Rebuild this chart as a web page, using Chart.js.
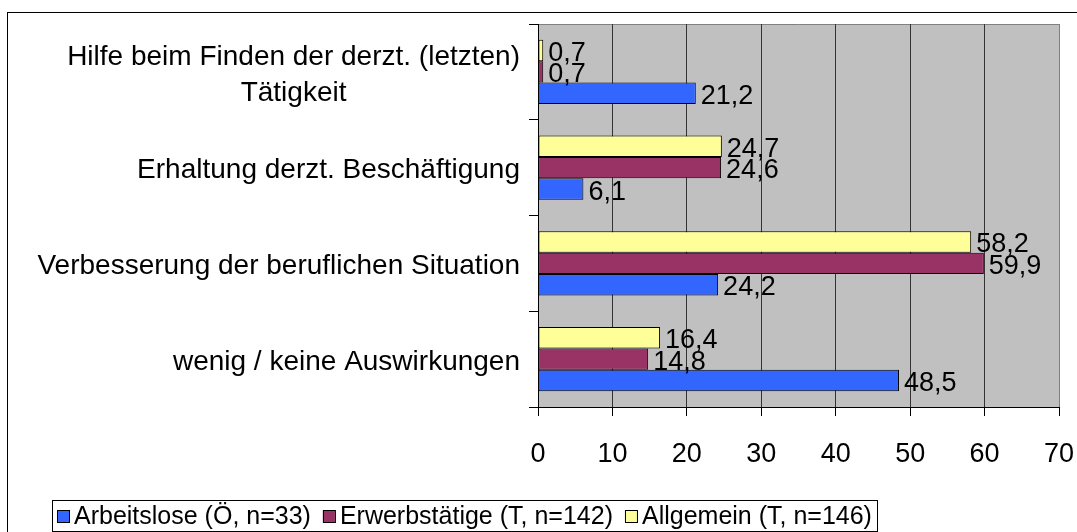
<!DOCTYPE html>
<html>
<head>
<meta charset="utf-8">
<script src="https://cdn.jsdelivr.net/npm/chart.js@4.4.0/dist/chart.umd.min.js"></script>
<style>
  html, body { margin: 0; padding: 0; background: #fff; }
</style>
</head>
<body>
<canvas id="chart" width="1077" height="532"></canvas>
<script>
// Kategorien von oben nach unten
var categories = [
    ['Hilfe beim Finden der derzt. (letzten)', 'Tätigkeit'],
    'Erhaltung derzt. Beschäftigung',
    'Verbesserung der beruflichen Situation',
    'wenig / keine Auswirkungen'
];
var seriesNames = ['Arbeitslose (Ö, n=33)', 'Erwerbstätige (T, n=142)', 'Allgemein (T, n=146)'];
var arbeitslose = [21.2, 6.1, 24.2, 48.5];
var erwerbstaetige = [0.7, 24.6, 59.9, 14.8];
var allgemein = [0.7, 24.7, 58.2, 16.4];
var xTicks = [0, 10, 20, 30, 40, 50, 60, 70];

var FONT = "'Liberation Sans', Arial, sans-serif";
var FS_CAT = 28;   // Kategorien
var FS = 27;       // Achse + Werte
var FS_LEG = 25;   // Legende

// Hintergrund, Rahmen und grauer Plotbereich
var bgPlugin = {
    id: 'bg',
    beforeDraw: function (chart) {
        var ctx = chart.ctx, a = chart.chartArea;
        ctx.save();
        ctx.fillStyle = '#fff';
        ctx.fillRect(0, 0, chart.width, chart.height);
        ctx.strokeStyle = '#000';
        ctx.lineWidth = 1;
        ctx.strokeRect(7.5, 12.5, chart.width + 50, chart.height + 50);
        ctx.fillStyle = '#c0c0c0';
        ctx.fillRect(a.left, a.top, a.right - a.left, a.bottom - a.top);
        ctx.strokeStyle = '#808080';
        ctx.beginPath();
        ctx.moveTo(a.left, Math.round(a.top) + 0.5);
        ctx.lineTo(a.right, Math.round(a.top) + 0.5);
        ctx.stroke();
        ctx.restore();
    }
};

// Beschriftung der Kategorien (mehrzeilig zentriert)
var yLabelPlugin = {
    id: 'ylabels',
    afterDraw: function (chart) {
        var ctx = chart.ctx, y = chart.scales.y;
        ctx.save();
        ctx.font = FS_CAT + 'px ' + FONT;
        ctx.fillStyle = '#000';
        ctx.textBaseline = 'middle';
        ctx.textAlign = 'center';
        var right = y.right - 18;
        var lh = 36;
        categories.forEach(function (lab, i) {
            var lines = Array.isArray(lab) ? lab : [lab];
            var w = Math.max.apply(null, lines.map(function (l) { return ctx.measureText(l).width; }));
            var cx = right - w / 2;
            var cy = y.getPixelForTick(i) + 3;
            lines.forEach(function (l, k) {
                ctx.fillText(l, cx, cy + (k - (lines.length - 1) / 2) * lh);
            });
        });
        ctx.restore();
    }
};

// Werte neben den Balken
var valuePlugin = {
    id: 'values',
    afterDatasetsDraw: function (chart) {
        var ctx = chart.ctx;
        ctx.save();
        ctx.font = FS + 'px ' + FONT;
        ctx.fillStyle = '#000';
        ctx.textBaseline = 'middle';
        ctx.textAlign = 'left';
        chart.data.datasets.forEach(function (ds, di) {
            var meta = chart.getDatasetMeta(di);
            meta.data.forEach(function (bar, i) {
                ctx.fillText(String(ds.data[i]).replace('.', ','), bar.x + 5, bar.y + 3);
            });
        });
        ctx.restore();
    }
};

// Legende mit Rahmen (Einträge aus den Datensätzen)
var legendPlugin = {
    id: 'boxLegend',
    afterDraw: function (chart) {
        var ctx = chart.ctx;
        var items = Chart.defaults.plugins.legend.labels.generateLabels(chart).reverse();
        var x = 57, cy = 516, box = 12, gap = 5, space = 12;
        var start = x;
        ctx.save();
        ctx.font = FS_LEG + 'px ' + FONT;
        ctx.textBaseline = 'middle';
        ctx.textAlign = 'left';
        ctx.lineWidth = 1;
        items.forEach(function (it) {
            var by = Math.round(cy - box / 2);
            ctx.fillStyle = it.fillStyle;
            ctx.fillRect(x, by, box, box);
            ctx.strokeStyle = '#000';
            ctx.strokeRect(x + 0.5, by + 0.5, box, box);
            ctx.fillStyle = '#000';
            ctx.fillText(it.text, x + box + gap, cy + 1);
            x += box + gap + ctx.measureText(it.text).width + space;
        });
        var end = x - space + 5;
        ctx.strokeStyle = '#000';
        ctx.strokeRect(start - 5 + 0.5, cy - 16 + 0.5, Math.round(end - start + 5), 31);
        ctx.restore();
    }
};

new Chart(document.getElementById('chart'), {
    type: 'bar',
    data: {
        labels: categories,
        datasets: [{
            label: seriesNames[2],
            data: allgemein,
            backgroundColor: '#ffff99',
            borderColor: '#000',
            borderWidth: 1,
            borderSkipped: false
        }, {
            label: seriesNames[1],
            data: erwerbstaetige,
            backgroundColor: '#993366',
            borderColor: '#000',
            borderWidth: 1,
            borderSkipped: false
        }, {
            label: seriesNames[0],
            data: arbeitslose,
            backgroundColor: '#3366ff',
            borderColor: '#000',
            borderWidth: 1,
            borderSkipped: false
        }]
    },
    options: {
        indexAxis: 'y',
        responsive: false,
        animation: false,
        devicePixelRatio: 1,
        categoryPercentage: 0.673,
        barPercentage: 1.0,
        layout: { padding: { left: 47, top: 24, right: 18, bottom: 39 } },
        scales: {
            x: {
                min: 0,
                max: 70,
                afterBuildTicks: function (s) {
                    s.ticks = xTicks.map(function (v) { return { value: v }; });
                },
                afterFit: function (s) {
                    s.height = 86;
                    s.paddingLeft = 0;
                    s.paddingRight = 0;
                },
                ticks: {
                    color: '#000',
                    font: { family: FONT, size: FS },
                    padding: 22,
                    maxRotation: 0
                },
                grid: {
                    color: function (c) { return c.tick && c.tick.value === 70 ? '#808080' : '#333'; },
                    tickColor: '#000',
                    tickLength: 9
                },
                border: { color: '#000', width: 1 }
            },
            y: {
                afterFit: function (s) { s.width = 538 - 47; },
                ticks: { display: false },
                grid: {
                    drawOnChartArea: false,
                    tickColor: '#000',
                    tickLength: 9,
                    offset: true
                },
                border: { color: '#000', width: 1 }
            }
        },
        plugins: {
            legend: { display: false },
            tooltip: { enabled: false }
        }
    },
    plugins: [bgPlugin, yLabelPlugin, valuePlugin, legendPlugin]
});
</script>
</body>
</html>
